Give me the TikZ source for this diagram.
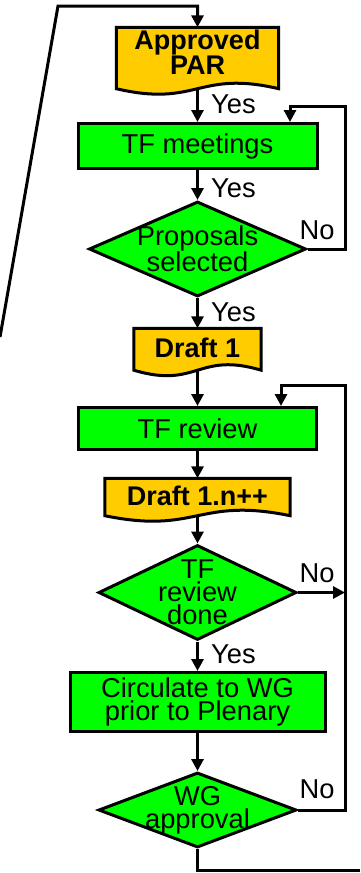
\documentclass[tikz,border=0pt]{standalone}
\usepackage{fontspec}
\setmainfont{Liberation Sans}
\usetikzlibrary{arrows.meta,shapes.geometric,backgrounds}
\tikzset{>={Triangle[length=12pt,width=12pt]}}
\definecolor{boxgreen}{RGB}{0,255,0}
\definecolor{docyellow}{RGB}{255,204,0}
\tikzset{
  procbox/.style={rectangle, draw, line width=3pt, fill=boxgreen, inner sep=0pt, align=center},
  decbox/.style={diamond, aspect=2, draw, line width=3pt, fill=boxgreen, inner sep=-12pt, align=center},
  docbox/.style={rectangle, inner sep=0pt, align=center,
    font=\fontsize{27}{24}\selectfont\bfseries},
  docline/.style={line width=3pt, fill=docyellow},
  flow/.style={line width=3pt, ->},
  lbl/.style={inner sep=0pt}
}
% document box: #1 node, #2 drop of the wavy bottom below the node
\newcommand{\docshape}[2]{%
  \filldraw[docline] (#1.north west) -- (#1.north east) -- ([yshift=-#2]#1.south east)
    .. controls ([yshift=-#2+19pt]#1.south) and ([yshift=-#2-19pt]#1.south)
    .. ([yshift=-#2]#1.south west) -- cycle;}
\begin{document}
\begin{tikzpicture}[x=1pt, y=-1pt, every node/.style={font=\fontsize{27.3}{23}\selectfont}]
\useasboundingbox (0,0) rectangle (360,873);

% boxes of the flow
\node[docbox, minimum width=162pt, minimum height=50pt] (par) at (197.5,52.5) {Approved\\PAR};
\node[procbox, minimum width=239pt, minimum height=45pt] (meet) at (197.5,146) {TF meetings};
\node[decbox, minimum width=217pt, minimum height=95pt] (prop) at (197.5,249) {Proposals\\selected};
\node[docbox, minimum width=127pt, minimum height=39pt] (dfa) at (197.5,348) {Draft 1};
\node[procbox, minimum width=238pt, minimum height=42pt] (rev) at (197.5,428.5) {TF review};
\node[docbox, minimum width=185pt, minimum height=35pt] (dfb) at (197.5,496) {Draft 1.n++};
\node[decbox, minimum width=198pt, minimum height=95pt] (done) at (197.5,592.5) {TF\\review\\done};
\node[procbox, minimum width=255pt, minimum height=59pt] (circ) at (197.5,702) {Circulate to WG\\prior to Plenary};
\node[decbox, minimum width=198pt, minimum height=75pt] (wg) at (197.5,810) {WG\\approval};

\begin{scope}[on background layer]
  \docshape{par}{11pt}
  \docshape{dfa}{2.5pt}
  \docshape{dfb}{2pt}
\end{scope}

% free ends and corners
\coordinate (topl) at (0,337);
\coordinate (topk) at (58,6);
\coordinate (lpa) at (345,106);
\coordinate (lpb) at (290,106);
\coordinate (rta) at (345,385);
\coordinate (rtb) at (281,385);
\coordinate (btm) at (360,870);

% connectors
\draw[flow] (topl) -- (topk) -| (par.north);
\draw[flow] ([yshift=-11pt]par.south) -- (meet.north);
\draw[flow] (meet.south) -- (prop.north);
\draw[flow] (prop.south) -- (dfa.north);
\draw[flow] (prop.east) -| (lpa) -- (lpb) -- (lpb |- meet.north);
\draw[flow] ([yshift=-2.5pt]dfa.south) -- (rev.north);
\draw[flow] (rev.south) -- (dfb.north);
\draw[flow] ([yshift=-2pt]dfb.south) -- (done.north);
\draw[flow] (done.east) -- (done.east -| rta);
\draw[flow] (done.south) -- (circ.north);
\draw[flow] (circ.south) -- (wg.north);
\draw[flow] (wg.east) -| (rta) -- (rtb) -- (rtb |- rev.north);
\draw[line width=3pt] (wg.south) |- (btm);

% labels
\node[lbl, anchor=west] (ya) at (211,104) {Yes};
\node[lbl, anchor=west] (yb) at (211,188) {Yes};
\node[lbl, anchor=west] (yc) at (211,312) {Yes};
\node[lbl, anchor=west] (yd) at (211,654) {Yes};
\node[lbl] (na) at (317,230) {No};
\node[lbl] (nb) at (317,573) {No};
\node[lbl] (nc) at (317,789) {No};
\end{tikzpicture}
\end{document}
